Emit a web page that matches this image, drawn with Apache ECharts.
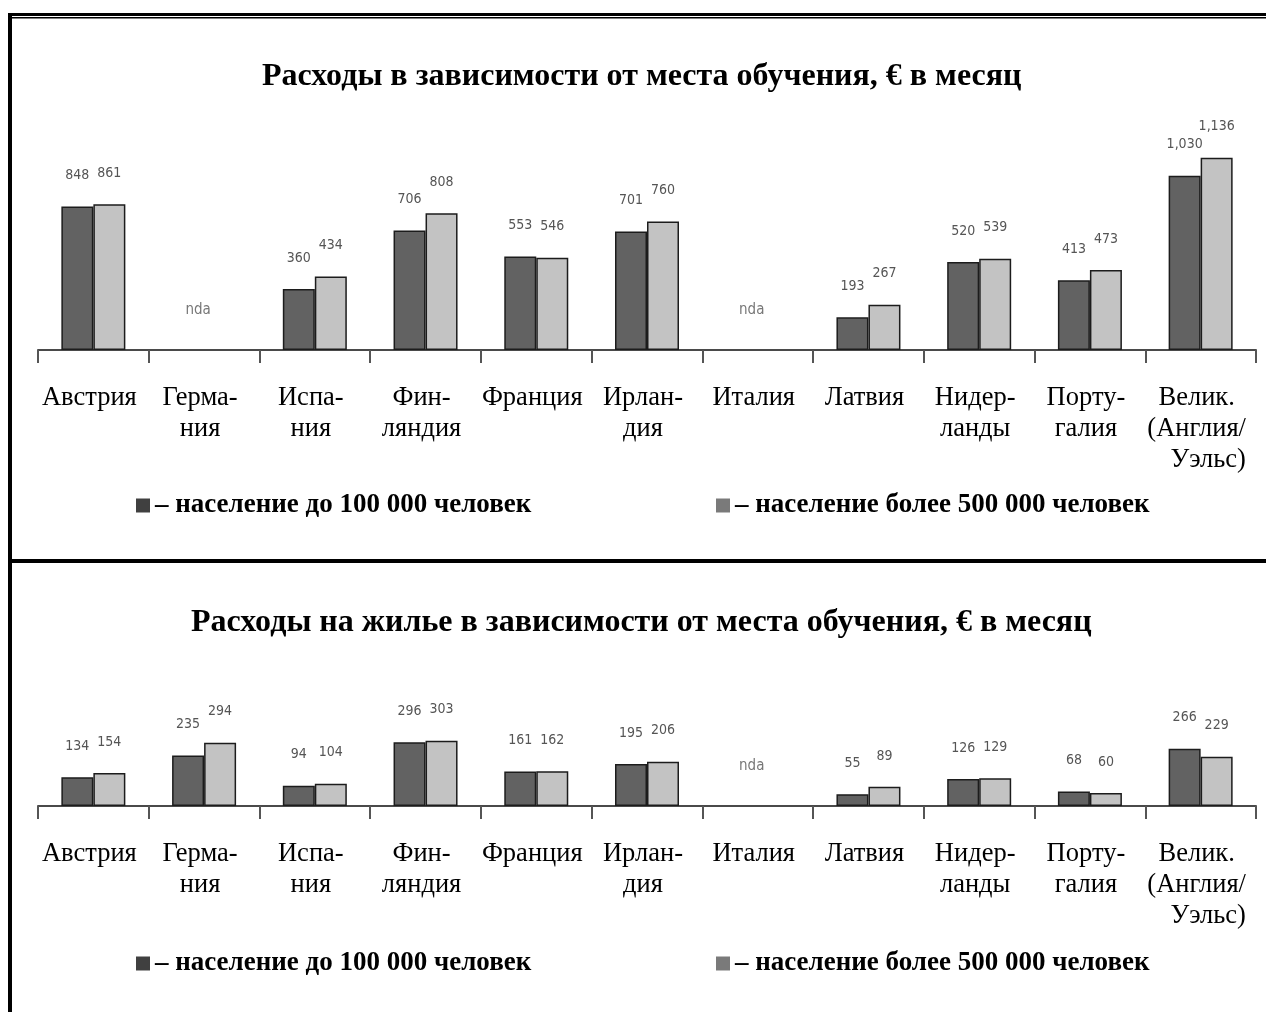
<!DOCTYPE html>
<html>
<head>
<meta charset="utf-8">
<script src="https://cdn.jsdelivr.net/npm/echarts@6/dist/echarts.min.js"></script>
<style>
html,body{margin:0;padding:0;background:#fff;}
#chart{width:1266px;height:1012px;}
</style>
</head>
<body>
<div id="chart"></div>
<script>
// ---- data ----
const categories = ['Австрия','Герма-\nния','Испа-\nния','Фин-\nляндия','Франция','Ирлан-\nдия','Италия','Латвия','Нидер-\nланды','Порту-\nгалия','Велик.\n(Англия/\nУэльс)'];
const seriesNames = ['население до 100 000 человек','население более 500 000 человек'];
// Total costs, € per month (null = nda)
const totalSmall = [848, null, 360, 706, 553, 701, null, 193, 520, 413, 1030];
const totalLarge = [861, null, 434, 808, 546, 760, null, 267, 539, 473, 1136];
const totalNda = ['Герма-\nния','Италия'];
// Housing costs, € per month
const housingSmall = [134, 235, 94, 296, 161, 195, null, 55, 126, 68, 266];
const housingLarge = [154, 294, 104, 303, 162, 206, null, 89, 129, 60, 229];
const housingNda = ['Италия'];
const titles = ['Расходы в зависимости от места обучения, € в месяц','Расходы на жилье в зависимости от места обучения, € в месяц'];

// ---- styles ----
const SERIF = '"Liberation Serif","Times New Roman",serif';
const NARROW = '"Liberation Sans Narrow","DejaVu Sans Condensed",sans-serif';
const DARK = '#626262', LIGHT = '#c3c3c3';
const CAT_FS = 26.5;

function fmtVal(p){ const v = p.value; return v >= 1000 ? v.toLocaleString('en-US') : String(v); }

function xAxisFor(gi){
  return {
    type:'category', gridIndex:gi, data:categories, boundaryGap:true,
    axisLine:{show:true, lineStyle:{color:'#4a4a4a', width:2}},
    axisTick:{show:true, length:13, lineStyle:{color:'#555', width:2}},
    axisLabel:{
      interval:0, margin:33, color:'#000', fontFamily:SERIF, fontSize:CAT_FS, lineHeight:31,
      padding:[0,8,0,0],
      formatter:function(v){
        if (v.indexOf('Велик.') === 0) {
          const parts = v.split('\n');
          return '{c|' + parts[0] + '}\n{c|' + parts[1] + '}\n{r|' + parts[2] + '}';
        }
        return v;
      },
      rich:{
        c:{fontFamily:SERIF, fontSize:CAT_FS, lineHeight:31, color:'#000', align:'center'},
        r:{fontFamily:SERIF, fontSize:CAT_FS, lineHeight:31, color:'#000', align:'right'}
      }
    }
  };
}
function barSeries(name, data, color, gi){
  return {
    type:'bar', name:name, data:data, xAxisIndex:gi, yAxisIndex:gi,
    barWidth:32, barGap:'0%',
    itemStyle:{color:color, borderColor:'#1c1c1c', borderWidth:1.5},
    label:{show:true, position:'top', distance:24, color:'#555', fontFamily:NARROW, fontSize:14, formatter:fmtVal},
    emphasis:{disabled:true}
  };
}
function ndaSeries(cats, level, gi){
  return {
    type:'scatter', xAxisIndex:gi, yAxisIndex:gi, symbolSize:0, silent:true,
    data:cats.map(c => [c, level]),
    label:{show:true, position:'inside', offset:[-6,0], formatter:'nda', color:'#555', fontFamily:NARROW, fontSize:15}
  };
}
function legendAt(name, color, left, top){
  return {
    left:left, top:top, icon:'rect', itemWidth:14, itemHeight:14, selectedMode:false, padding:0,
    data:[{name:name, itemStyle:{color:color, borderWidth:0}}],
    formatter:'– {name}',
    textStyle:{fontFamily:SERIF, fontSize:27, fontWeight:'bold', color:'#000'}
  };
}

const option = {
  animation:false,
  backgroundColor:'#fff',
  title:[
    {text:titles[0], left:262, top:61, padding:0, textStyle:{fontFamily:SERIF, fontSize:32, fontWeight:'bold', color:'#000'}},
    {text:titles[1], left:191, top:607, padding:0, textStyle:{fontFamily:SERIF, fontSize:32, fontWeight:'bold', color:'#000'}}
  ],
  legend:[
    legendAt(seriesNames[0], '#404040', 136, 492),
    legendAt(seriesNames[1], '#7a7a7a', 716, 492),
    legendAt(seriesNames[0], '#404040', 136, 950),
    legendAt(seriesNames[1], '#7a7a7a', 716, 950)
  ],
  grid:[
    {left:38, right:10, top:147, height:203},
    {left:38, right:10, top:720, height:86}
  ],
  xAxis:[xAxisFor(0), xAxisFor(1)],
  yAxis:[
    {type:'value', gridIndex:0, min:0, max:1200, show:false},
    {type:'value', gridIndex:1, min:0, max:400, show:false}
  ],
  series:[
    barSeries(seriesNames[0], totalSmall, DARK, 0),
    barSeries(seriesNames[1], totalLarge, LIGHT, 0),
    ndaSeries(totalNda, 235, 0),
    barSeries(seriesNames[0], housingSmall, DARK, 1),
    barSeries(seriesNames[1], housingLarge, LIGHT, 1),
    ndaSeries(housingNda, 186, 1)
  ],
  graphic:[
    {type:'rect', shape:{x:8, y:13, width:1258, height:3}, style:{fill:'#000'}, silent:true},
    {type:'rect', shape:{x:8, y:17, width:1258, height:1.5}, style:{fill:'#000'}, silent:true},
    {type:'rect', shape:{x:8, y:13, width:4, height:999}, style:{fill:'#000'}, silent:true},
    {type:'rect', shape:{x:8, y:559, width:1258, height:4}, style:{fill:'#000'}, silent:true}
  ]
};

const chart = echarts.init(document.getElementById('chart'), null, {renderer:'canvas'});
chart.setOption(option);
</script>
</body>
</html>
